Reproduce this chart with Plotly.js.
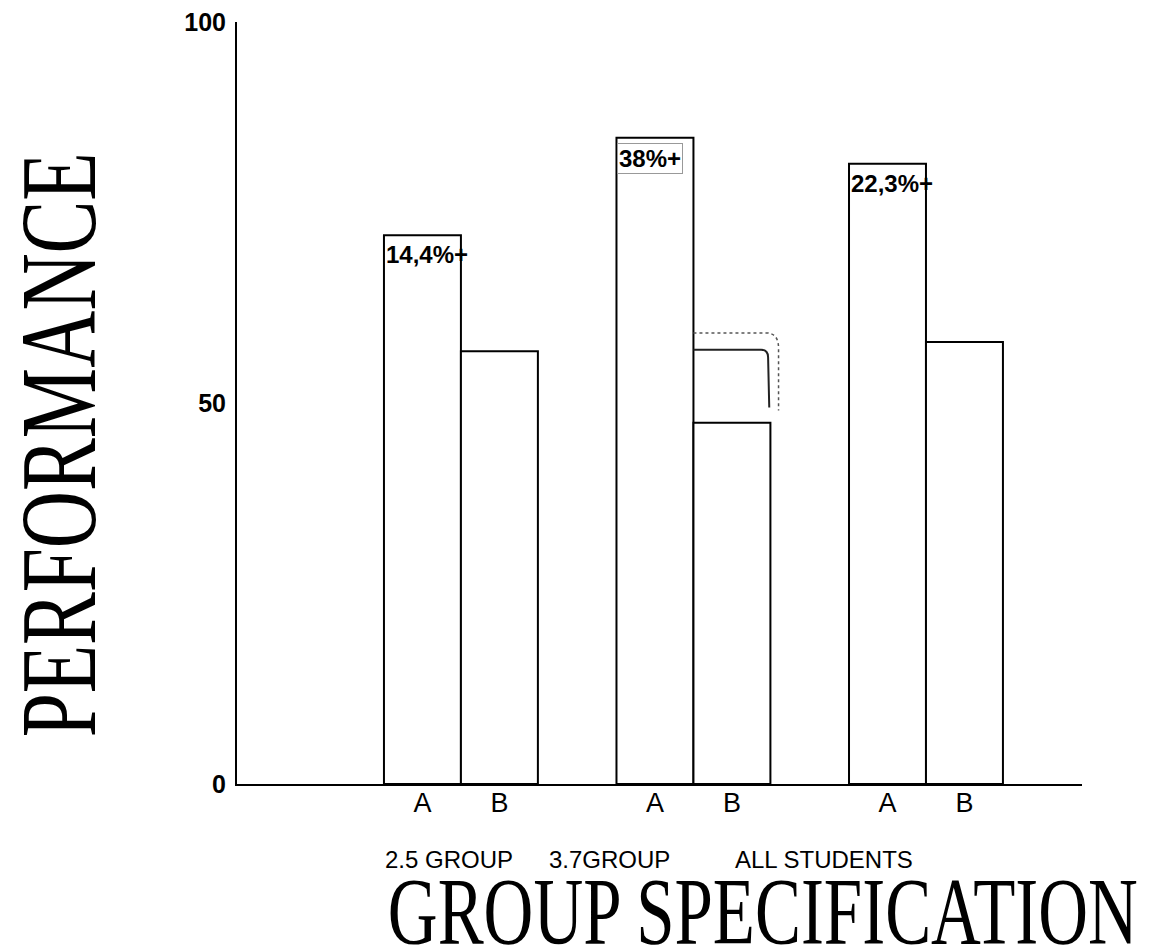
<!DOCTYPE html>
<html>
<head>
<meta charset="utf-8">
<script src="https://cdn.plot.ly/plotly-3.0.1.min.js"></script>
<style>
  html, body { margin: 0; padding: 0; background: #ffffff; }
  #chart { width: 1152px; height: 949px; }
</style>
</head>
<body>
<div id="chart"></div>
<script>
// ---- data ----
const groups = ["2.5 GROUP", "3.7GROUP", "ALL STUDENTS"];
const seriesNames = ["A", "B"];
const valuesA = [72.0, 84.8, 81.4];
const valuesB = [56.8, 47.4, 58.0];
const gainLabels = ["14,4%+", "38%+", "22,3%+"];
const correctedB37 = 57.0;   // hand-drawn correction mark on 3.7 group, bar B
const yTickVals = [0, 50, 100];
const yTickText = ["0", "50", "100"];
const xTitle = "GROUP SPECIFICATION";
const yTitle = "PERFORMANCE";

// ---- layout helpers ----
const barW = 0.331;
const gIdx = groups.map((_, i) => i);
const xA = gIdx.map(i => i - barW / 2);
const xB = gIdx.map(i => i + barW / 2);

const barStyle = { color: "#ffffff", line: { color: "#000000", width: 2 } };

const traces = [
  { type: "bar", name: seriesNames[0], x: xA, y: valuesA, width: barW, marker: barStyle, hoverinfo: "x+y" },
  { type: "bar", name: seriesNames[1], x: xB, y: valuesB, width: barW, marker: barStyle, hoverinfo: "x+y" }
];

const tickVals = [];
const tickText = [];
gIdx.forEach(i => { tickVals.push(xA[i], xB[i]); tickText.push(seriesNames[0], seriesNames[1]); });

const annotations = [];
// gain labels at top-left inside bar A
gainLabels.forEach((t, i) => {
  annotations.push({
    x: xA[i] - barW / 2, y: valuesA[i], xref: "x", yref: "y",
    xanchor: "left", yanchor: "top", xshift: 1, yshift: -5,
    text: t, showarrow: false,
    font: { family: "Liberation Sans Narrow, Liberation Sans, Arial, sans-serif", size: 24, color: "#000", weight: "bold" },
    bordercolor: i === 1 ? "#999999" : "rgba(0,0,0,0)", borderwidth: i === 1 ? 1 : 0, borderpad: 1
  });
});
// group labels (hand placed, shifted left of group centres)
const groupLabelShift = [-0.05, -0.36, -0.44];
groups.forEach((g, i) => {
  annotations.push({
    x: i + groupLabelShift[i], y: 0, xref: "x", yref: "paper",
    xanchor: "center", yanchor: "top", yshift: -60,
    text: g, showarrow: false,
    font: { family: "Liberation Sans, Arial, sans-serif", size: 24, color: "#000" }
  });
});
// big serif titles
annotations.push({
  x: 0.622, y: 0, xref: "paper", yref: "paper", xanchor: "center", yanchor: "top", yshift: -74,
  text: xTitle, showarrow: false,
  font: { family: "Liberation Serif, Times New Roman, serif", size: 95, color: "#000" },
  borderpad: 0
});
annotations.push({
  x: 0, y: 0.445, xref: "paper", yref: "paper", xanchor: "center", yanchor: "middle", xshift: -178,
  text: yTitle, textangle: -90, showarrow: false,
  font: { family: "Liberation Serif, Times New Roman, serif", size: 108, color: "#000" }
});

// correction bracket on 3.7 group bar B
const bL = xB[1] - barW / 2, bR = xB[1] + barW / 2;
const shapes = [
  {
    type: "path", xref: "x", yref: "y",
    path: `M ${bL} ${correctedB37 + 2.2} L ${bR - 0.02} ${correctedB37 + 2.2} Q ${bR + 0.035} ${correctedB37 + 2.2} ${bR + 0.035} ${correctedB37 + 0.2} L ${bR + 0.035} ${valuesB[1] + 1.6}`,
    line: { color: "#555555", width: 1.5, dash: "dot" }
  },
  {
    type: "path", xref: "x", yref: "y",
    path: `M ${bL} ${correctedB37} L ${bR - 0.04} ${correctedB37} Q ${bR - 0.01} ${correctedB37} ${bR - 0.01} ${correctedB37 - 1} L ${bR - 0.005} ${valuesB[1] + 2}`,
    line: { color: "#222222", width: 2 }
  }
];

const layout = {
  width: 1152, height: 949,
  margin: { l: 237, r: 70, t: 22, b: 165 },
  paper_bgcolor: "#ffffff", plot_bgcolor: "#ffffff",
  showlegend: false,
  barmode: "overlay",
  xaxis: {
    range: [-0.963, 2.671], showgrid: false, zeroline: false,
    showline: true, linecolor: "#000", linewidth: 2,
    tickmode: "array", tickvals: tickVals, ticktext: tickText, ticks: "",
    tickfont: { family: "Liberation Sans, Arial, sans-serif", size: 27, color: "#000" },
    ticklabelstandoff: -6
  },
  yaxis: {
    range: [0, 100], showgrid: false, zeroline: false,
    showline: true, linecolor: "#000", linewidth: 2,
    tickmode: "array", tickvals: yTickVals, ticktext: yTickText, ticks: "",
    tickfont: { family: "Liberation Sans, Arial, sans-serif", size: 25, color: "#000", weight: "bold" },
    ticklabelstandoff: 4
  },
  annotations: annotations,
  shapes: shapes
};

Plotly.newPlot("chart", traces, layout, { displayModeBar: false, staticPlot: true }).then(() => {
  // condense the large serif titles to match the original lettering widths
  const texts = document.querySelectorAll("#chart .annotation-text");
  texts.forEach(t => {
    if (t.textContent === xTitle) {
      t.setAttribute("textLength", "750");
      t.setAttribute("lengthAdjust", "spacingAndGlyphs");
    } else if (t.textContent === yTitle) {
      t.setAttribute("textLength", "585");
      t.setAttribute("lengthAdjust", "spacingAndGlyphs");
    }
  });
});
</script>
</body>
</html>
